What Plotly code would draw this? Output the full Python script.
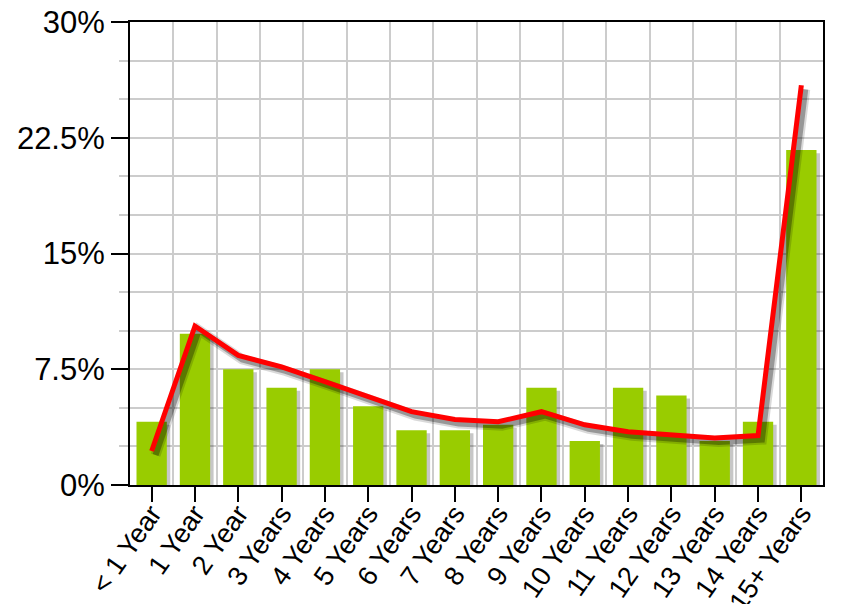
import plotly.graph_objects as go

categories = ["< 1 Year", "1 Year", "2 Year", "3 Years", "4 Years", "5 Years",
              "6 Years", "7 Years", "8 Years", "9 Years", "10 Years", "11 Years",
              "12 Years", "13 Years", "14 Years", "15+ Years"]
bar_values = [4.1, 9.8, 7.5, 6.3, 7.5, 5.1, 3.55, 3.55, 3.9, 6.3, 2.85, 6.3,
              5.8, 2.85, 4.1, 21.7]
line_values = [2.2, 10.3, 8.4, 7.65, 6.7, 5.75, 4.75, 4.25, 4.1, 4.75, 3.9, 3.45,
               3.25, 3.05, 3.2, 25.9]
y_ticks = [0, 7.5, 15, 22.5, 30]

BAR_COLOR = "#99cc00"
LINE_COLOR = "#ff0000"
GRID = "#cccccc"
FONT = "Liberation Sans, Arial, sans-serif"

fig = go.Figure()

# bar shadows (main subplot)
fig.add_trace(go.Bar(x=categories, y=bar_values, width=0.7, offset=-0.35 + 0.08,
                     base=-0.2, marker=dict(color="rgba(0,0,0,0.22)", line=dict(width=0)),
                     hoverinfo="skip", showlegend=False))
# bars
fig.add_trace(go.Bar(x=categories, y=bar_values, width=0.7, offset=-0.35,
                     marker=dict(color=BAR_COLOR, line=dict(width=0)),
                     showlegend=False))
# line shadow on shifted overlay axes
fig.add_trace(go.Scatter(x=categories, y=line_values, mode="lines",
                         line=dict(color="rgba(0,0,0,0.15)", width=10),
                         xaxis="x2", yaxis="y2", hoverinfo="skip", showlegend=False))
fig.add_trace(go.Scatter(x=categories, y=line_values, mode="lines",
                         line=dict(color="rgba(0,0,0,0.3)", width=6),
                         xaxis="x2", yaxis="y2", hoverinfo="skip", showlegend=False))
# red line on unshifted overlay axis (also carries centre tick marks)
fig.add_trace(go.Scatter(x=categories, y=line_values, mode="lines",
                         line=dict(color=LINE_COLOR, width=5),
                         xaxis="x3", yaxis="y", showlegend=False))

fig.update_layout(
    width=829, height=596,
    margin=dict(l=122, r=14, t=14, b=119, autoexpand=False),
    paper_bgcolor="white", plot_bgcolor="white",
    barmode="overlay",
    font=dict(family=FONT, color="black"),
    xaxis=dict(type="category", categoryorder="array", categoryarray=categories,
               range=[-0.5, 15.5], tickson="boundaries", showgrid=True,
               gridcolor=GRID, gridwidth=2, ticks="", tickangle=-55,
               tickfont=dict(size=27, family=FONT, color="black"),
               showline=True, linecolor="black", linewidth=2, mirror=True,
               zeroline=False, automargin=False, ticklabeloverflow="allow"),
    xaxis2=dict(type="category", categoryorder="array", categoryarray=categories,
                range=[-0.59, 15.41], overlaying="x", anchor="y2", visible=False),
    xaxis3=dict(type="category", categoryorder="array", categoryarray=categories,
                range=[-0.5, 15.5], overlaying="x", anchor="y", side="bottom",
                ticks="outside", ticklen=16, tickwidth=2, tickcolor="black",
                showticklabels=False, showgrid=False, showline=False, zeroline=False,
                automargin=False),
    yaxis=dict(range=[0, 30], tickmode="array", tickvals=y_ticks,
               ticktext=[f"{v:g}%" for v in y_ticks],
               ticks="outside", ticklen=17, tickwidth=2, tickcolor="black",
               tickfont=dict(size=31, family=FONT, color="black"),
               showgrid=True, gridcolor=GRID, gridwidth=2,
               minor=dict(dtick=2.5, tick0=0, showgrid=True, gridcolor=GRID,
                          gridwidth=2, ticks="outside", ticklen=9, tickwidth=2,
                          tickcolor=GRID),
               showline=True, linecolor="black", linewidth=2, mirror=True,
               zeroline=False, automargin=False, ticklabeloverflow="allow"),
    yaxis2=dict(range=[0.26, 30.26], overlaying="y", anchor="x2", visible=False),
)

fig.write_html("out.html")
